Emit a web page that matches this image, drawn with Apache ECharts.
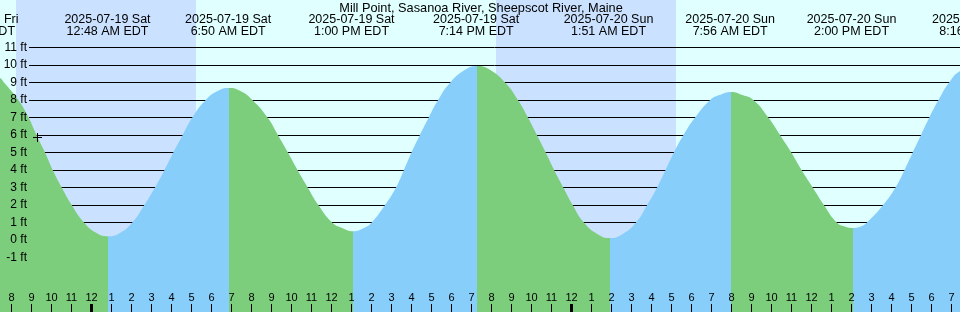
<!DOCTYPE html>
<html><head><meta charset="utf-8">
<script src="https://cdn.jsdelivr.net/npm/echarts@6/dist/echarts.min.js"></script>
<style>html,body{margin:0;padding:0;background:#e0ffff}#c{width:960px;height:312px}</style>
</head><body><div id="c"></div>
<script>
// ---- data (hours are measured from 2025-07-19 00:00 EDT) ----
const chartTitle = 'Mill Point, Sasanoa River, Sheepscot River, Maine';
const tideHours = [-5.7, -4.575, -4.375, -3.66, -3.15, -2.75, -2.325, -1.94, -1.49, -0.99, -0.375, 0.25, 0.825, 1.4,
  2.04, 2.64, 3.175, 3.65, 4.09, 4.56, 5.04, 5.71, 6.3, 6.875, 7.45,
  8.04, 8.8, 9.32, 9.82, 10.3, 10.81, 11.34, 12.03, 12.5, 13.075, 13.65,
  14.01, 14.675, 15.225, 15.62, 16.0, 16.42, 16.86, 17.33, 17.94, 18.7, 19.29, 19.9,
  20.675, 21.32, 21.82, 22.27, 22.71, 23.13, 23.59, 24.06, 24.62, 25.325, 25.925, 26.525,
  27.225, 27.78, 28.28, 28.7, 29.12, 29.6, 30.18, 30.94, 31.4, 31.975, 32.55,
  33.09, 33.84, 34.425, 34.99, 35.5, 36.06, 36.62, 37.26, 37.66, 38.06, 38.46,
  38.77, 39.58, 40.2, 40.65, 41.06, 41.475, 41.89, 42.35, 42.88, 43.425, 44.27];
const tideFeet = [9.9, 9.26, 9, 8, 7, 6, 5, 4, 3, 2, 1, 0.4, 0.22, 0.39,
  1, 2, 3, 4, 5, 6, 7, 8, 8.51, 8.69, 8.51,
  8, 7, 6, 5, 4, 3, 2, 1, 0.7, 0.5, 0.7,
  1, 2, 3, 4, 5, 6, 7, 8, 9, 9.74, 9.95, 9.74,
  9, 8, 7, 6, 5, 4, 3, 2, 1, 0.32, 0.12, 0.32,
  1, 2, 3, 4, 5, 6, 7, 8, 8.28, 8.46, 8.28,
  8, 7, 6, 5, 4, 3, 2, 1, 0.77, 0.69, 0.77,
  1, 2, 3, 4, 5, 6, 7, 8, 9, 9.66, 10.0];
const eventHours = [-5.7, 0.8, 6.833, 13.0, 19.233, 25.85, 31.933, 38.0, 44.267];
const eventDates = ['2025-07-18 Fri', '2025-07-19 Sat', '2025-07-19 Sat', '2025-07-19 Sat', '2025-07-19 Sat',
  '2025-07-20 Sun', '2025-07-20 Sun', '2025-07-20 Sun', '2025-07-20 Sun'];
const eventTimes = ['6:18 PM EDT', '12:48 AM EDT', '6:50 AM EDT', '1:00 PM EDT', '7:14 PM EDT',
  '1:51 AM EDT', '7:56 AM EDT', '2:00 PM EDT', '8:16 PM EDT'];
const nightStarts = [-3.775, 20.225];
const nightEnds = [5.225, 29.225];
const midnightHours = [0, 24];
const nowMarker = [-2.69, 5.86];
const heightTickMin = -1, heightTickMax = 11;

// ---- styles / layout ----
const DAY = '#e0ffff', NIGHT = '#cae1ff', FALL = '#7ccd7c', RISE = '#87cefa';
const FONT = '"Liberation Sans", Arial, sans-serif';
const X_MIN = -5, X_MAX = 44, Y_MIN = -5, Y_MAX = 14;

// rising / falling sections from local extremes of the curve
const extremes = [];
for (let i = 0; i < tideFeet.length; i++) {
  const p = tideFeet[i - 1], n = tideFeet[i + 1], v = tideFeet[i];
  const isHigh = (p === undefined || v > p) && (n === undefined || v > n);
  const isLow = (p === undefined || v < p) && (n === undefined || v < n);
  if (isHigh || isLow) extremes.push({ h: tideHours[i], high: isHigh });
}
const pieces = [];
pieces.push({ lt: extremes[0].h, color: extremes[0].high ? RISE : FALL });
for (let i = 0; i < extremes.length - 1; i++) {
  pieces.push({ gte: extremes[i].h, lt: extremes[i + 1].h, color: extremes[i].high ? FALL : RISE });
}
const last = extremes[extremes.length - 1];
pieces.push({ gte: last.h, color: last.high ? FALL : RISE });

const hourLabel = h => { const m = ((h % 12) + 12) % 12; return String(m === 0 ? 12 : m); };

const chart = echarts.init(document.getElementById('c'), null, { renderer: 'canvas' });
chart.setOption({
  animation: false,
  backgroundColor: DAY,
  grid: [
    { left: -8.5, right: -11.5, top: -5, bottom: -15.5, outerBoundsMode: 'none', containLabel: false },
    { left: 29, right: 0, top: 47.5, bottom: 54.5, outerBoundsMode: 'none', containLabel: false }
  ],
  xAxis: [
    { gridIndex: 0, type: 'value', position: 'bottom', min: X_MIN, max: X_MAX, interval: 1, offset: -23.5, z: 10,
      axisLine: { show: false, onZero: false },
      axisTick: { show: true, length: 8, lineStyle: { color: '#000', width: 1 } },
      axisLabel: { inside: true, margin: 1, color: '#000', fontSize: 11, fontFamily: FONT,
        formatter: hourLabel, showMinLabel: true, showMaxLabel: true, hideOverlap: false },
      splitLine: { show: false } },
    { gridIndex: 1, type: 'value', min: X_MIN, max: X_MAX, show: false }
  ],
  yAxis: [
    { gridIndex: 0, type: 'value', min: Y_MIN, max: Y_MAX, show: false },
    { gridIndex: 1, type: 'value', position: 'left', min: heightTickMin, max: heightTickMax, interval: 1, z: 2,
      axisLine: { show: false }, axisTick: { show: false }, axisLabel: { show: false },
      splitLine: { show: true, lineStyle: { color: '#000', width: 1 } } },
    { gridIndex: 1, type: 'value', position: 'left', min: heightTickMin, max: heightTickMax, interval: 1, z: 10,
      axisLine: { show: false }, axisTick: { show: false }, splitLine: { show: false },
      axisLabel: { show: true, margin: 2, color: '#000', fontSize: 12, fontFamily: FONT,
        formatter: v => v + ' ft' } }
  ],
  visualMap: { type: 'piecewise', show: false, dimension: 0, seriesIndex: 1, pieces },
  graphic: [{ type: 'text', x: 481, y: 8, z: 10,
    style: { text: chartTitle, align: 'center', verticalAlign: 'middle', fill: '#000', font: '12.75px ' + FONT } }],
  series: [
    { type: 'custom', xAxisIndex: 0, yAxisIndex: 0, z: 1, silent: true,
      data: nightStarts.map((s, i) => [s, nightEnds[i]]),
      renderItem: (params, api) => {
        const a = api.coord([api.value(0), Y_MAX]);
        const b = api.coord([api.value(1), Y_MIN]);
        return { type: 'rect', shape: { x: a[0], y: a[1], width: b[0] - a[0], height: b[1] - a[1] }, style: { fill: NIGHT } };
      } },
    { type: 'line', xAxisIndex: 0, yAxisIndex: 0, z: 3, silent: true,
      data: tideHours.map((h, i) => [h, tideFeet[i]]),
      smooth: 0.5, showSymbol: false, symbol: 'none',
      lineStyle: { width: 0, opacity: 0 },
      areaStyle: { opacity: 1, origin: 'start' } },
    { type: 'custom', xAxisIndex: 0, yAxisIndex: 0, z: 10, silent: true,
      data: midnightHours.map(h => [h, 0]),
      renderItem: (params, api) => {
        const c = api.coord([api.value(0), 0]);
        return { type: 'rect', shape: { x: c[0] - 1.5, y: 304, width: 3, height: 8 }, style: { fill: '#000' } };
      } },
    { type: 'custom', xAxisIndex: 0, yAxisIndex: 0, z: 10, silent: true,
      data: eventHours.map(h => [h, 0]),
      renderItem: (params, api) => {
        const x = api.coord([api.value(0), 0])[0];
        const i = params.dataIndex;
        const st = t => ({ text: t, align: 'center', verticalAlign: 'middle', fill: '#000', font: '12.5px ' + FONT });
        return { type: 'group', children: [
          { type: 'text', x: x, y: 20, style: st(eventDates[i]) },
          { type: 'text', x: x, y: 31.5, style: st(eventTimes[i]) }
        ] };
      } },
    { type: 'custom', xAxisIndex: 0, yAxisIndex: 0, z: 5, silent: true,
      data: [nowMarker],
      renderItem: (params, api) => {
        const c = api.coord([api.value(0), api.value(1)]);
        const cx = Math.floor(c[0]) + 0.5, cy = Math.floor(c[1]) + 0.5;
        const ls = { stroke: '#000', lineWidth: 1 };
        return { type: 'group', children: [
          { type: 'line', shape: { x1: cx - 4.5, y1: cy, x2: cx + 4.5, y2: cy }, style: ls },
          { type: 'line', shape: { x1: cx, y1: cy - 4.5, x2: cx, y2: cy + 4.5 }, style: ls }
        ] };
      } }
  ]
});
</script>
</body></html>
